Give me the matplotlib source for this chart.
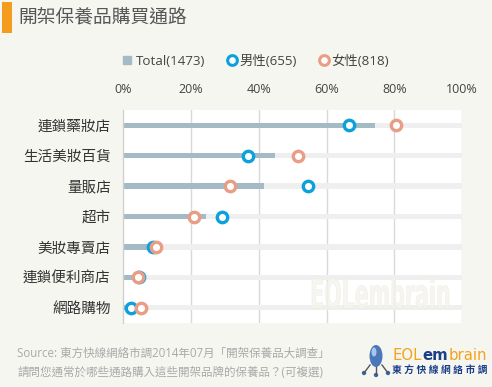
import matplotlib
matplotlib.use("Agg")
import matplotlib.pyplot as plt
from matplotlib.patches import Rectangle, Ellipse, Circle, PathPatch
from matplotlib.textpath import TextPath
from matplotlib.font_manager import FontProperties
from matplotlib.transforms import Affine2D
import matplotlib.lines as mlines

plt.rcParams['font.family'] = ['Open Sans', 'Noto Sans CJK TC', 'DejaVu Sans']

categories = ['連鎖藥妝店', '生活美妝百貨', '量販店', '超市', '美妝專賣店', '連鎖便利商店', '網路購物']
total = [74.3, 44.8, 41.5, 24.4, 8.4, 4.9, 1.5]
male = [66.7, 36.9, 54.4, 29.2, 8.9, 4.6, 2.3]
female = [80.6, 51.6, 31.5, 20.9, 9.6, 4.3, 5.1]
xticks = [0, 20, 40, 60, 80, 100]
xticklabels = ['0%', '20%', '40%', '60%', '80%', '100%']
legend_labels = ['Total(1473)', '男性(655)', '女性(818)']

BG = '#f6f6f1'
C_TOTAL = '#a4bbc5'
C_TRACK = '#efefef'
C_MALE = '#0ba1dc'
C_FEMALE = '#e99d84'
C_GRID = '#d9d9d9'

W, H = 492, 387
fig = plt.figure(figsize=(4.92, 3.87), dpi=100, facecolor=BG)

# title
fig.patches.append(Rectangle((2/W, 1-33/H), 10/W, 31/H, transform=fig.transFigure,
                             facecolor='#f39c1e', edgecolor='none'))
fig.text(18/W, 1-17/H, '開架保養品購買通路', fontsize=13.5, color='#555555', va='center', ha='left')

ax = fig.add_axes([123.3/W, 1-323/H, (462-123.3)/W, (323-110)/H])
ax.set_facecolor('white')
y = list(range(len(categories)))
bh = 0.17
ax.barh(y, [100]*len(y), height=bh, color=C_TRACK, zorder=1)
ax.barh(y, total, height=bh, color=C_TOTAL, zorder=2)
ax.plot(male, y, 'o', ms=7.5, mfc='white', mec=C_MALE, mew=2.4, ls='none', zorder=6)
ax.plot(female, y, 'o', ms=7.5, mfc='white', mec=C_FEMALE, mew=2.4, ls='none', zorder=7)

ax.set_xlim(0, 100)
ax.set_ylim(len(y)-0.5, -0.5)
ax.set_yticks(y)
ax.set_yticklabels(categories, fontsize=10.5, color='#333333')
ax.set_xticks(xticks)
ax.set_xticklabels(xticklabels, fontsize=9, color='#444444')
ax.xaxis.tick_top()
ax.tick_params(axis='both', length=0)
ax.tick_params(axis='x', pad=10)
ax.tick_params(axis='y', pad=9)
for x in xticks[1:]:
    ax.axvline(x, color=C_GRID, lw=1, zorder=0)
for s in ['top', 'right', 'bottom']:
    ax.spines[s].set_visible(False)
ax.spines['left'].set_color('#d0d0d0')
ax.spines['left'].set_linewidth(1)

# watermark (condensed text fitted into a box, pixel coords)
tp = TextPath((0, 0), 'EOLembrain', size=20, prop=FontProperties(family='DejaVu Sans', weight='bold'))
ext = tp.get_extents()
bx0, bx1, by0, by1 = 312, 449, 277, 309
tr = (Affine2D().translate(-ext.x0, -ext.y0)
      .scale((bx1-bx0)/ext.width/W, (by1-by0)/ext.height/H)
      .translate(bx0/W, 1-by1/H))
fig.patches.append(PathPatch(tr.transform_path(tp), transform=fig.transFigure,
                             facecolor='#f5f3eb', edgecolor='#ecebe4', lw=0.4, alpha=0.8, zorder=5))

# legend
handles = [
    mlines.Line2D([], [], marker='s', ls='none', color=C_TOTAL, ms=6),
    mlines.Line2D([], [], marker='o', ls='none', mfc='white', mec=C_MALE, mew=2.2, ms=7),
    mlines.Line2D([], [], marker='o', ls='none', mfc='white', mec=C_FEMALE, mew=2.2, ms=7),
]
leg = fig.legend(handles, legend_labels, loc='center', bbox_to_anchor=(255/W, 1-61/H), ncol=3,
                 frameon=False, fontsize=9.6, handletextpad=0.1, columnspacing=1.5,
                 handlelength=1.0)
for t in leg.get_texts():
    t.set_color('#444444')

# source
fig.text(17/W, 1-353/H, 'Source: 東方快線網絡市調2014年07月「開架保養品大調查」', fontsize=8.3,
         color='#a9a9a9', va='center', ha='left')
fig.text(17/W, 1-373/H, '請問您通常於哪些通路購入這些開架品牌的保養品？(可複選)', fontsize=8.3,
         color='#a9a9a9', va='center', ha='left')

# logo
lax = fig.add_axes([358/W, 1-382/H, 36/W, 42/H])
lax.set_xlim(0, 36); lax.set_ylim(0, 42); lax.axis('off')
lax.add_patch(Ellipse((18, 26), 13, 22, facecolor='#4a78b8', edgecolor='none'))
lax.add_patch(Ellipse((16, 30), 5, 9, facecolor='#a9c6ea', edgecolor='none'))
for (x0, y0, x1, y1) in [(12, 17, 6, 9), (18, 15, 18, 7), (24, 17, 30, 9)]:
    lax.plot([x0, x1], [y0, y1], color='#555555', lw=1)
    lax.add_patch(Circle((x1, y1), 2.2, facecolor='#3a69ae', edgecolor='none'))

fig.canvas.draw()
renderer = fig.canvas.get_renderer()
parts = [('EOL', '#f5a21b', 'normal'), ('em', '#1c3f8a', 'bold'), ('brain', '#f5a21b', 'normal')]
fs = 12
# measure total width then fit
widths = []
for txt, col, wt in parts:
    t = fig.text(0, 0, txt, fontsize=fs, fontweight=wt, family=['DejaVu Sans'])
    widths.append(t.get_window_extent(renderer).width)
    t.remove()
scale = (487 - 392) / (sum(widths) + 2)
fs2 = fs * min(scale, 1.2)
xpos = 392
for txt, col, wt in parts:
    t = fig.text(xpos/W, 1-355/H, txt, fontsize=fs2, color=col, fontweight=wt,
                 va='center', ha='left', family=['DejaVu Sans'])
    xpos += t.get_window_extent(renderer).width + 1
fig.text(392/W, 1-370/H, '東 方 快 線 網 絡 市 調', fontsize=7, color='#1c3f8a', fontweight='bold',
         va='center', ha='left')

fig.savefig('out.png', dpi=100, facecolor=BG)
